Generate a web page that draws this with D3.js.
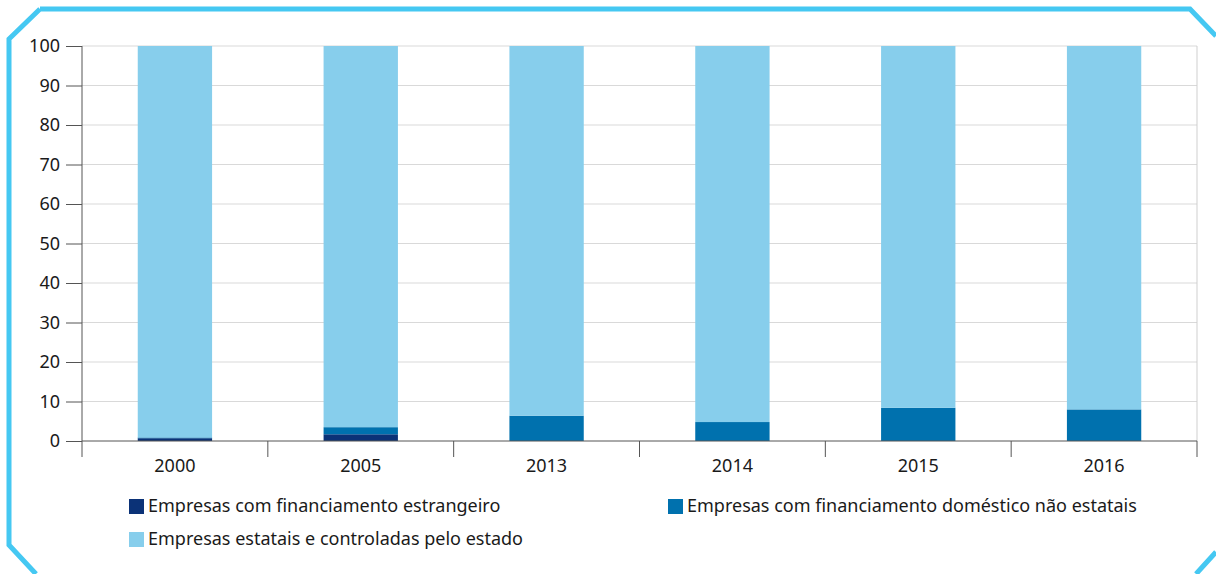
<!doctype html>
<html>
<head>
<meta charset="utf-8">
<style>
  body { margin: 0; background: #fff; }
  text { font-family: "Noto Sans", "Open Sans", sans-serif; fill: #1a1a1a; }
</style>
</head>
<body>
  <svg id="chart"></svg>
<script src="https://d3js.org/d3.v7.min.js"></script>
<script>
  // data (percent)
  const years = ["2000", "2005", "2013", "2014", "2015", "2016"];
  const foreign = [0.7, 1.7, 0, 0, 0, 0];
  const domestic = [0.2, 1.8, 6.4, 4.8, 8.4, 8.0];
  const stateOwned = [99.1, 96.5, 93.6, 95.2, 91.6, 92.0];
  const yTicks = [0, 10, 20, 30, 40, 50, 60, 70, 80, 90, 100];
  const seriesNames = [
    "Empresas com financiamento estrangeiro",
    "Empresas com financiamento doméstico não estatais",
    "Empresas estatais e controladas pelo estado"
  ];
  const colors = ["#0b3277", "#0071ae", "#87ceec"];

  const width = 1216, height = 574;
  const svg = d3.select("#chart").attr("width", width).attr("height", height);

  // octagon frame
  svg.append("path")
    .attr("d", "M40,9 L1190,9 L1216,36 M1216,552 L1196,574 M36,574 L9,545 L9,39 L40,9")
    .attr("fill", "none")
    .attr("stroke", "#45c8f2")
    .attr("stroke-width", 5)
    .attr("stroke-linejoin", "miter");

  const mLeft = 82, mRight = 1197, mTop = 46, mBottom = 441;

  const x = d3.scaleBand().domain(years).range([mLeft, mRight]).paddingInner(0.6).paddingOuter(0.3);
  const xb = d3.scaleBand().domain(years).range([mLeft, mRight]);
  const y = d3.scaleLinear().domain([0, 100]).range([mBottom, mTop]);

  // grid
  svg.append("g").selectAll("line").data(yTicks.filter(d => d > 0)).enter().append("line")
    .attr("x1", mLeft).attr("x2", mRight)
    .attr("y1", d => y(d)).attr("y2", d => y(d))
    .attr("stroke", "#d9d9d9").attr("stroke-width", 1);
  svg.append("line")
    .attr("x1", mRight).attr("x2", mRight).attr("y1", mTop).attr("y2", mBottom)
    .attr("stroke", "#cfcfcf");

  // stacked bars
  const rows = years.map((yr, i) => ({ year: yr, a: foreign[i], b: domestic[i], c: stateOwned[i] }));
  const stack = d3.stack().keys(["a", "b", "c"])(rows);
  svg.append("g").selectAll("g").data(stack).enter().append("g")
    .attr("fill", (d, i) => colors[i])
    .selectAll("rect").data(d => d).enter().append("rect")
    .attr("x", d => x(d.data.year))
    .attr("width", x.bandwidth())
    .attr("y", d => y(d[1]))
    .attr("height", d => y(d[0]) - y(d[1]));

  // y axis
  const yAxis = svg.append("g").attr("transform", `translate(${mLeft},0)`)
    .call(d3.axisLeft(y).tickValues(yTicks).tickSize(16).tickPadding(6));
  yAxis.select(".domain").remove();
  yAxis.selectAll(".tick line").attr("stroke", "#555");
  yAxis.selectAll("text").style("font-size", "18px").attr("fill", "#1a1a1a");
  svg.append("line").attr("x1", mLeft).attr("x2", mLeft).attr("y1", mTop).attr("y2", mBottom + 16)
    .attr("stroke", "#555");

  // x axis
  svg.append("line").attr("x1", mLeft).attr("x2", mRight).attr("y1", mBottom).attr("y2", mBottom)
    .attr("stroke", "#555");
  svg.append("g").selectAll("line").data(years.slice(1)).enter().append("line")
    .attr("x1", d => xb(d)).attr("x2", d => xb(d))
    .attr("y1", mBottom).attr("y2", mBottom + 16).attr("stroke", "#555");
  svg.append("line").attr("x1", mRight).attr("x2", mRight).attr("y1", mBottom).attr("y2", mBottom + 16)
    .attr("stroke", "#555");
  svg.append("g").selectAll("text").data(years).enter().append("text")
    .attr("x", d => xb(d) + xb.bandwidth() / 2)
    .attr("y", mBottom + 31)
    .attr("text-anchor", "middle")
    .style("font-size", "18px")
    .text(d => d);

  // legend
  const legendPos = [[129, 506], [668, 506], [129, 539]];
  const legend = svg.append("g").selectAll("g").data(seriesNames).enter().append("g")
    .attr("transform", (d, i) => `translate(${legendPos[i][0]},${legendPos[i][1]})`);
  legend.append("rect").attr("x", 0).attr("y", -7).attr("width", 15).attr("height", 15)
    .attr("fill", (d, i) => colors[i]);
  legend.append("text").attr("x", 19).attr("y", 6)
    .style("font-size", "18px")
    .text(d => d);
</script>
</body>
</html>
